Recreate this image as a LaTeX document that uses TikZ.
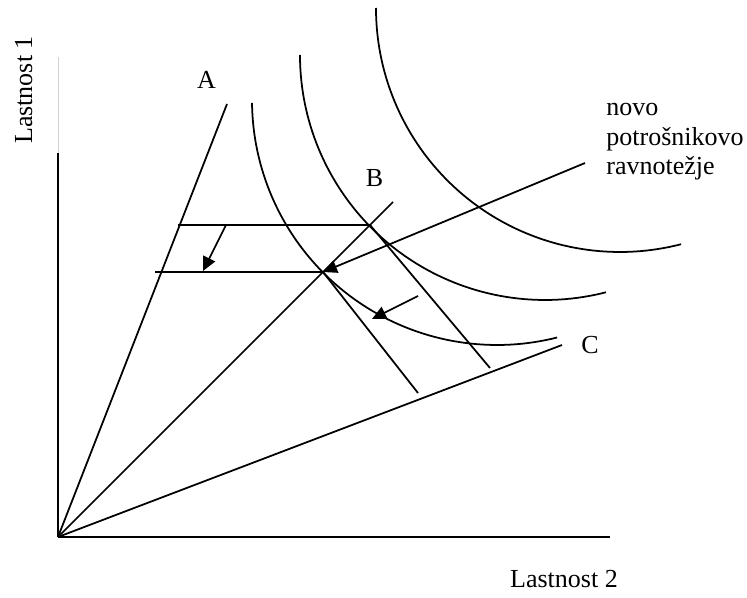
\documentclass[tikz,border=0pt]{standalone}
\usepackage{fontspec}
\setmainfont{Liberation Serif}
\usetikzlibrary{arrows.meta}

\begin{document}
\begin{tikzpicture}[
    line/.style={line width=1pt},
    curve/.style={line width=1pt},
    move/.style={line width=1pt, -{Triangle[length=0.28cm, width=0.26cm]}},
    lbl/.style={font=\fontsize{14.8}{17}\selectfont, inner sep=0pt}
]
\useasboundingbox (-1.16,-1.2) rectangle (13.78,10.74);

% Axes
\coordinate (O) at (0,0);
\coordinate (xend) at (11.04,0);
\coordinate (yend) at (0,7.68);
\coordinate (ytop) at (0,9.6);
\draw[line] (O) -- (xend);
\draw[line] (O) -- (yend);
\draw[gray!35, line width=0.4pt] (yend) -- (ytop);
\node[lbl, rotate=90, anchor=base] (ylab) at (-0.52,8.94) {Lastnost 1};
\node[lbl, anchor=base] (xlab) at (10.12,-1.0) {Lastnost 2};

% Rays
\coordinate (Aend) at (3.38,8.66);
\coordinate (Bend) at (6.70,6.70);
\coordinate (Cend) at (10.08,3.84);
\draw[line] (O) -- (Aend);
\draw[line] (O) -- (Bend);
\draw[line] (O) -- (Cend);
\node[lbl, anchor=base] (A) at (2.97,8.96) {A};
\node[lbl, anchor=base] (B) at (6.33,7.0) {B};
\node[lbl, anchor=base] (C) at (10.64,3.68) {C};

% Indifference curves
\coordinate (k1) at (8.78,8.74);
\coordinate (k2) at (9.74,9.64);
\coordinate (k3) at (11.24,10.58);
\draw[curve] (k1) ++(180.7:4.9) arc[start angle=180.7, end angle=284.2, radius=4.9];
\draw[curve] (k2) ++(180:4.9) arc[start angle=180, end angle=284.4, radius=4.9];
\draw[curve] (k3) ++(180:4.88) arc[start angle=180, end angle=284.5, radius=4.88];

% Equilibria and budget lines
\coordinate (E1) at (6.24,6.24);
\coordinate (E2) at (5.30,5.30);
\coordinate (h1) at (2.40,6.24);
\coordinate (h2) at (1.94,5.30);
\coordinate (L1) at (8.64,3.38);
\coordinate (L2) at (7.20,2.88);
\draw[line] (h1) -- (E1);
\draw[line] (h2) -- (E2);
\draw[line] (E1) -- (L1);
\draw[line] (E2) -- (L2);

% Shifts
\coordinate (s1) at (3.36,6.24);
\coordinate (t1) at (2.90,5.32);
\coordinate (s3) at (7.20,4.82);
\coordinate (t3) at (6.28,4.36);
\draw[move] (s1) -- (t1);
\draw[move] (s3) -- (t3);

% New equilibrium
\node[lbl, align=left, anchor=base west] (novo) at (10.96,7.24)
    {novo\\potrošnikovo\\ravnotežje};
\coordinate (n0) at (10.54,7.48);
\draw[move] (n0) -- (E2);
\end{tikzpicture}
\end{document}
